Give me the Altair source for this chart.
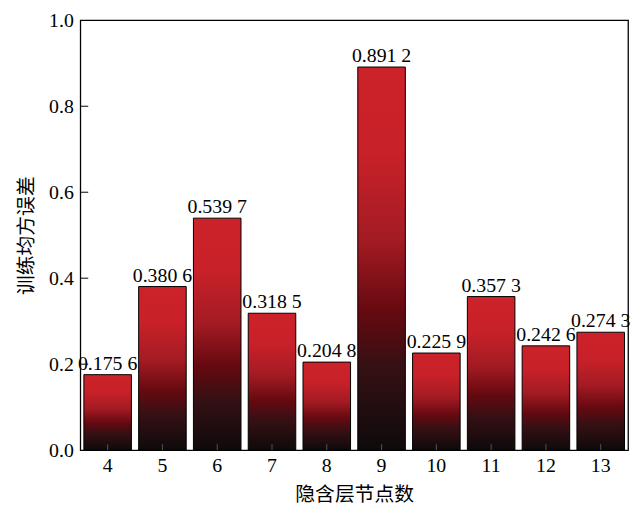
import altair as alt
import pandas as pd

nodes = ["4", "5", "6", "7", "8", "9", "10", "11", "12", "13"]
mse = [0.1756, 0.3806, 0.5397, 0.3185, 0.2048, 0.8912, 0.2259, 0.3573, 0.2426, 0.2743]
y_tick_values = [0.0, 0.2, 0.4, 0.6, 0.8, 1.0]
inner_ticks = [0.2, 0.4, 0.6, 0.8]

SERIF = "'Liberation Serif', 'Times New Roman', Times, serif"


def fmt(v):
    s = f"{v:.4f}"
    return s[:-1] + " " + s[-1]


df = pd.DataFrame({"node": nodes, "value": mse, "label": [fmt(v) for v in mse]})
ticks_df = pd.DataFrame({"value": inner_ticks})

grad = alt.Gradient(
    gradient="linear",
    stops=[
        alt.GradientStop(color="#CC2229", offset=0),
        alt.GradientStop(color="#C92129", offset=0.22),
        alt.GradientStop(color="#A41B23", offset=0.45),
        alt.GradientStop(color="#650910", offset=0.64),
        alt.GradientStop(color="#361014", offset=0.78),
        alt.GradientStop(color="#0E0A0B", offset=1),
    ],
    x1=0, x2=0, y1=0, y2=1,
)

x_enc = alt.X(
    "node:N",
    sort=nodes,
    scale=alt.Scale(paddingInner=0.132, paddingOuter=0.065),
    axis=alt.Axis(title="隐含层节点数", labelAngle=0, ticks=False, domain=False,
                  labelPadding=6, titlePadding=9),
)
y_enc = alt.Y(
    "value:Q",
    scale=alt.Scale(domain=[0, 1], nice=False, zero=True),
    axis=alt.Axis(title="训练均方误差", values=y_tick_values, format=".1f", ticks=False,
                  domain=False, labelPadding=7, titlePadding=12, grid=False),
)

bars = alt.Chart(df).mark_bar(fill=grad, stroke="black", strokeWidth=1).encode(x=x_enc, y=y_enc)

labels = alt.Chart(df).mark_text(
    baseline="bottom", dy=-1, font=SERIF, fontSize=20, color="black"
).encode(x=x_enc, y=y_enc, text="label:N")

xticks = alt.Chart(df).mark_rule(color="#555555", strokeWidth=1).encode(
    x=x_enc, y=alt.value(434), y2=alt.value(428)
)

yticks = alt.Chart(ticks_df).mark_rule(color="black", strokeWidth=1).encode(
    y=y_enc, x=alt.value(0), x2=alt.value(8)
)

chart = (
    alt.layer(bars, xticks, labels, yticks)
    .properties(
        width=553,
        height=434,
        autosize=alt.AutoSizeParams(type="none"),
        padding={"left": 73, "top": 10, "right": 5, "bottom": 54},
    )
    .configure_view(stroke="black", strokeWidth=1.3)
    .configure_axis(
        labelFont=SERIF, labelFontSize=20, labelColor="black",
        titleFont="Noto Sans CJK SC", titleFontSize=20, titleFontWeight="normal",
        titleColor="black",
    )
)

chart.save("out.html", embed_options={"renderer": "svg", "actions": False})
